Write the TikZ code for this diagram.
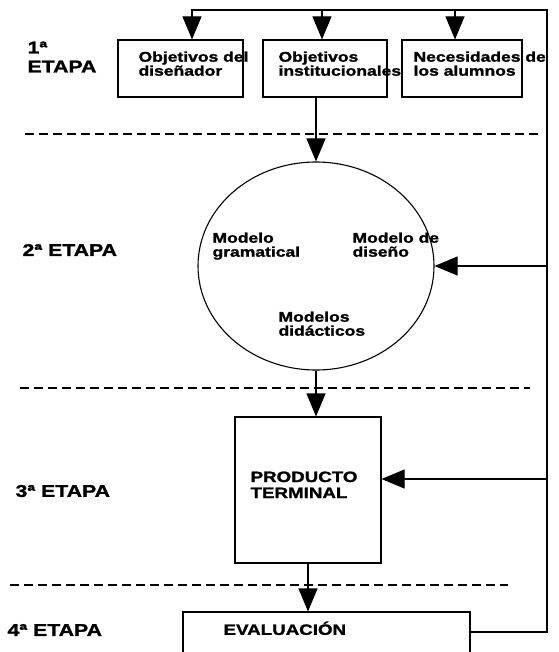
\documentclass[tikz,border=0pt]{standalone}
\usepackage{fontspec}
\setmainfont{Liberation Sans}[FakeStretch=1.25, BoldFeatures={FakeBold=1.5}]
\usetikzlibrary{arrows.meta,shapes.geometric}

\begin{document}
\begin{tikzpicture}[x=1pt, y=-1pt, line width=1.1pt,
	>={Triangle[length=23pt,width=19pt]},
	every node/.style={font=\bfseries\fontsize{14}{14}\selectfont, inner sep=0pt},
	etapa/.style={font=\bfseries\fontsize{17}{19}\selectfont, anchor=west, align=left},
	caja/.style={draw, rectangle, minimum width=#1, minimum height=57pt},
	txt/.style={anchor=north west, align=left},
	mayus/.style={txt, font=\bfseries\fontsize{15}{16}\selectfont},
	corte/.style={dash pattern=on 9pt off 5pt}]
	\path[use as bounding box, clip] (0,0) rectangle (558,652);
	% etapas
	\node[etapa] (e1) at (27,57) {1ª\\ETAPA};
	\node[etapa] (e2) at (22,250) {2ª ETAPA};
	\node[etapa] (e3) at (15,491) {3ª ETAPA};
	\node[etapa] (e4) at (7,630) {4ª ETAPA};
	\draw[corte] (25,134) -- (540,134);
	\draw[corte] (20,388) -- (530,388);
	\draw[corte] (10,585) -- (508,585);
	% 1a etapa
	\node[caja=125pt] (disen) at (180.5,68.5) {};
	\node[caja=124pt] (inst) at (325,68.5) {};
	\node[caja=120pt] (alum) at (462,68.5) {};
	\node[txt] (t1) at (138,51) {Objetivos del\\diseñador};
	\node[txt] (t2) at (278,51) {Objetivos\\institucionales};
	\node[txt] (t3) at (413,51) {Necesidades de\\los alumnos};
	% 2a etapa
	\node[draw, ellipse, minimum width=236pt, minimum height=208pt] (circ) at (316,266) {};
	\node[txt] (mg) at (212,232) {Modelo\\gramatical};
	\node[txt] (md) at (352,232) {Modelo de\\diseño};
	\node[txt] (mdid) at (278,311) {Modelos\\didácticos};
	% 3a y 4a etapa
	\node[draw, minimum width=146pt, minimum height=146pt] (prod) at (308,490) {};
	\node[mayus] (tprod) at (250,471) {PRODUCTO\\TERMINAL};
	\node[draw, minimum width=287pt, minimum height=50pt] (eval) at (326.5,637) {};
	\node[mayus] (tev) at (223,621) {EVALUACIÓN};
	% flechas
	\coordinate (rb) at (547,632);
	\coordinate (rt) at (547,10);
	\coordinate (r3) at (547,479);
	\coordinate (a1) at (192,10);
	\coordinate (a2) at (322,10);
	\coordinate (a3) at (455,10);
	\draw[->] (eval.east |- rb) -- (rb) -- (rt) -- (a1) -- (a1 |- disen.north);
	\draw[->] (a2) -- (a2 |- inst.north);
	\draw[->] (a3) -- (a3 |- alum.north);
	\draw[->] (inst.south -| circ.north) -- (circ.north);
	\draw[->] (rt |- circ.east) -- (circ.east);
	\draw[->] (circ.south) -- (circ.south |- prod.north);
	\draw[->] (r3) -- (r3 -| prod.east);
	\draw[->] (prod.south) -- (prod.south |- eval.north);
\end{tikzpicture}
\end{document}
